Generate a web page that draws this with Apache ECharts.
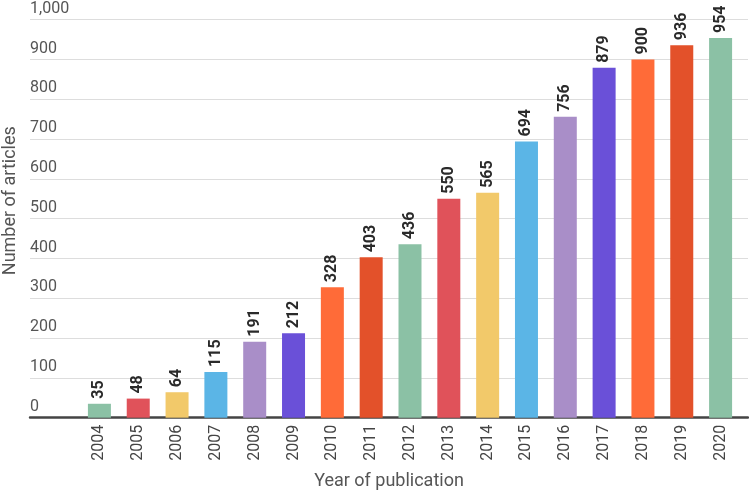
<!DOCTYPE html>
<html>
<head>
<meta charset="utf-8">
<script src="https://cdn.jsdelivr.net/npm/echarts@6/dist/echarts.min.js"></script>
<style>
html,body{margin:0;padding:0;background:#fff;}
#chart{width:749px;height:492px;}
</style>
</head>
<body>
<div id="chart"></div>
<script>
const years = ['2004','2005','2006','2007','2008','2009','2010','2011','2012','2013','2014','2015','2016','2017','2018','2019','2020'];
const articles = [35,48,64,115,191,212,328,403,436,550,565,694,756,879,900,936,954];
const palette = ['#8bc1a5','#e0525a','#f2c96a','#5bb5e6','#a98ec8','#6a50d8','#ff6b38','#e3512a'];
const yTicks = {min:0, max:1000, interval:100};

const chart = echarts.init(document.getElementById('chart'), null, {renderer:'canvas'});
const font = 'Roboto';
chart.setOption({
  animation:false,
  textStyle:{fontFamily:font},
  grid:[
    {left:30, right:1, top:19.7, bottom:74.3, containLabel:false, outerBoundsMode:'none'},
    {left:80, right:9, top:19.7, bottom:74.3, containLabel:false, outerBoundsMode:'none'}
  ],
  xAxis:[
    {type:'category', gridIndex:0, data:[''],
     axisLine:{show:true, lineStyle:{color:'#444', width:2.5}},
     axisTick:{show:false}, axisLabel:{show:false},
     name:'Year of publication', nameLocation:'middle', nameGap:55,
     nameTextStyle:{fontSize:18, color:'#555', fontFamily:font}},
    {type:'category', gridIndex:1, data:years,
     axisLine:{show:false}, axisTick:{show:false},
     axisLabel:{rotate:90, fontSize:16, color:'#444', margin:7, fontFamily:font}}
  ],
  yAxis:[
    {type:'value', gridIndex:0, min:yTicks.min, max:yTicks.max, interval:yTicks.interval,
     axisLine:{show:false}, axisTick:{show:false},
     splitLine:{lineStyle:{color:'#ddd', width:1}},
     axisLabel:{inside:true, margin:0, align:'left', verticalAlign:'bottom',
       padding:[0,0,3,0], fontSize:16, color:'#555', fontFamily:font,
       formatter:v=>v.toLocaleString('en-US')},
     name:'Number of articles', nameLocation:'middle', nameGap:3,
     nameTextStyle:{fontSize:18, color:'#555', fontFamily:font, padding:[0,0,0,36]}},
    {type:'value', gridIndex:1, min:yTicks.min, max:yTicks.max, interval:yTicks.interval, show:false}
  ],
  series:[{
    type:'bar', xAxisIndex:1, yAxisIndex:1, barWidth:23,
    data:articles.map((v,i)=>({value:v, itemStyle:{color:palette[i%palette.length]}})),
    label:{show:true, position:'top', rotate:90, align:'left', verticalAlign:'middle',
      distance:5, fontSize:16, fontWeight:'bold', color:'#2a2a2a', fontFamily:font}
  }]
});
</script>
</body>
</html>
